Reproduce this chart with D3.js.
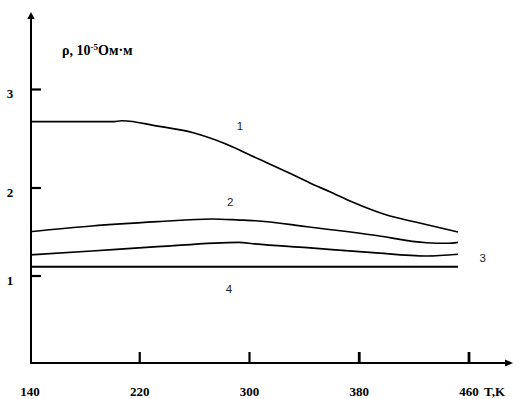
<!DOCTYPE html>
<html>
<head>
<meta charset="utf-8">
<script src="https://cdn.jsdelivr.net/npm/d3@7"></script>
<style>
  html, body { margin: 0; padding: 0; background: #fff; }
  svg { display: block; }
</style>
</head>
<body>
<svg id="chart" width="525" height="399"></svg>
<script>
// Temperature (K) tick values on the horizontal axis
const xTicks = [140, 220, 300, 380, 460];
// Resistivity tick values, ρ in 10^-5 Ом·м
const yTicks = [1, 2, 3];

// Resistivity curves: [T, ρ] pairs
const curve1 = [[140, 2.673], [200, 2.673], [207, 2.683], [233, 2.629], [259, 2.561],
                [281, 2.457], [305, 2.305], [329, 2.152], [344, 2.051], [359, 1.955],
                [375, 1.841], [400, 1.693], [424, 1.602], [452, 1.50]];
const curve2 = [[140, 1.503], [185, 1.568], [233, 1.617], [273, 1.648], [293, 1.636],
                [304, 1.628], [342, 1.560], [390, 1.466], [429, 1.378], [444, 1.372], [452, 1.383]];
const curve3 = [[140, 1.239], [185, 1.284], [233, 1.333], [292, 1.383], [304, 1.364],
                [342, 1.322], [390, 1.265], [429, 1.227], [452, 1.247]];
const curve4 = [[140, 1.106], [452, 1.106]];

const curves = [curve1, curve2, curve3, curve4];
const curveNames = ["1", "2", "3", "4"];
// Where each curve number sits: [T, ρ]
const curveLabelAt = [[293, 2.63], [286, 1.844], [470, 1.20], [285, 0.852]];

const svg = d3.select("#chart");

const x = d3.scaleLinear().domain([140, 460]).range([30, 469]);
// Piecewise scale: the printed grid is not evenly spaced between 2 and 3
const y = d3.scaleLinear().domain([0, 1, 2, 3]).range([364, 276, 188, 89.5]);

const serif = "'Liberation Serif', 'Times New Roman', serif";
const sans = "'Liberation Sans', Arial, sans-serif";

const axisG = svg.append("g").attr("stroke", "#000");

// Vertical axis with arrow head
axisG.append("line")
  .attr("x1", 31).attr("x2", 31)
  .attr("y1", y(0) - 1).attr("y2", 17)
  .attr("stroke-width", 2);
svg.append("path")
  .attr("d", "M31,12 L27.3,19 L34.7,19 Z")
  .attr("fill", "#000");

// Horizontal axis with arrow head
axisG.append("line")
  .attr("x1", 30).attr("x2", 507)
  .attr("y1", 363).attr("y2", 363)
  .attr("stroke-width", 2);
svg.append("path")
  .attr("d", "M513,363 L505,359.5 L505,366.5 Z")
  .attr("fill", "#000");

// Y ticks pointing inward
axisG.selectAll(".ytick").data(yTicks).join("line")
  .attr("x1", 31).attr("x2", 41)
  .attr("y1", d => y(d)).attr("y2", d => y(d))
  .attr("stroke-width", 2.2);

svg.selectAll(".ylab").data(yTicks).join("text")
  .attr("x", 10).attr("y", d => y(d) + 8.5)
  .attr("text-anchor", "middle")
  .attr("font-family", serif).attr("font-weight", "bold").attr("font-size", 13)
  .text(d => d);

// X ticks pointing upward (the origin value carries no mark)
axisG.selectAll(".xtick").data(xTicks.slice(1)).join("line")
  .attr("x1", d => x(d)).attr("x2", d => x(d))
  .attr("y1", 352).attr("y2", 363)
  .attr("stroke-width", (d, i) => i >= 2 ? 2.8 : 2.2);

svg.selectAll(".xlab").data(xTicks).join("text")
  .attr("x", d => x(d)).attr("y", 395.5)
  .attr("text-anchor", "middle")
  .attr("font-family", serif).attr("font-weight", "bold").attr("font-size", 13)
  .text(d => d);

svg.append("text")
  .attr("x", 484).attr("y", 395.5)
  .attr("font-family", serif).attr("font-weight", "bold").attr("font-size", 13)
  .text("T,K");

// Axis title ρ, 10^-5 Ом·м
const title = svg.append("text")
  .attr("x", 62).attr("y", 55)
  .attr("font-family", serif).attr("font-weight", "bold").attr("font-size", 14);
title.append("tspan").text("ρ, 10");
title.append("tspan").attr("dy", -5).attr("font-size", 9).text("-5");
title.append("tspan").attr("dy", 5).text("Ом·м");

// Curves
const line = d3.line()
  .x(d => x(d[0]))
  .y(d => y(d[1]))
  .curve(d3.curveMonotoneX);

svg.append("g").selectAll("path").data(curves).join("path")
  .attr("d", line)
  .attr("fill", "none")
  .attr("stroke", "#000")
  .attr("stroke-width", (d, i) => i === 3 ? 2 : 1.7);

// Curve numbers
svg.selectAll(".clab").data(curveNames).join("text")
  .attr("x", (d, i) => x(curveLabelAt[i][0]))
  .attr("y", (d, i) => y(curveLabelAt[i][1]))
  .attr("text-anchor", "middle")
  .attr("dominant-baseline", "central")
  .attr("font-family", sans).attr("font-size", 11.5)
  .attr("fill", "#222")
  .text(d => d);
</script>
</body>
</html>
